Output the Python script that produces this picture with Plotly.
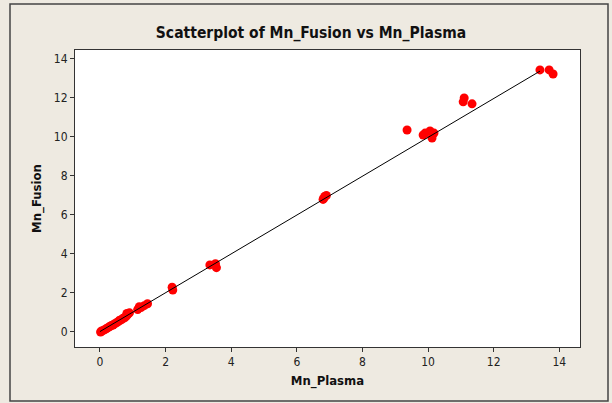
import plotly.graph_objects as go

# Data
mn_plasma = [0.02, 0.05, 0.1, 0.15, 0.2, 0.25, 0.3, 0.35, 0.4, 0.45, 0.5, 0.55, 0.6, 0.65,
             0.7, 0.75, 0.8, 0.85, 0.9, 0.82,
             1.15, 1.25, 1.35, 1.45, 1.2,
             2.2, 2.22,
             3.35, 3.52, 3.55,
             6.8, 6.85, 6.9, 6.82,
             9.36,
             9.85, 9.91, 10.06, 10.12, 10.18,
             11.07, 11.1, 11.34,
             13.41, 13.69, 13.81]
mn_fusion = [0.0, 0.05, 0.08, 0.12, 0.18, 0.22, 0.28, 0.33, 0.36, 0.42, 0.47, 0.52, 0.6, 0.62,
             0.7, 0.72, 0.8, 0.9, 0.98, 0.95,
             1.15, 1.25, 1.35, 1.45, 1.3,
             2.3, 2.15,
             3.44, 3.5, 3.3,
             6.8, 6.95, 7.0, 6.85,
             10.36,
             10.1, 10.2, 10.31, 9.95, 10.2,
             11.8, 12.0, 11.7,
             13.44, 13.44, 13.23]

# Fitted line
fit_intercept = 0.02
fit_slope = 0.996
fit_x = [0.0, 13.41]
fit_y = [fit_intercept + fit_slope * v for v in fit_x]

x_ticks = [0, 2, 4, 6, 8, 10, 12, 14]
y_ticks = [0, 2, 4, 6, 8, 10, 12, 14]

font_family = "DejaVu Sans Condensed, Liberation Sans, sans-serif"

fig = go.Figure()
fig.add_trace(go.Scatter(
    x=mn_plasma, y=mn_fusion, mode="markers",
    marker=dict(color="#FF0000", size=9, line=dict(width=0)),
    showlegend=False, hoverinfo="skip"))
fig.add_trace(go.Scatter(
    x=fit_x, y=fit_y, mode="lines",
    line=dict(color="black", width=1),
    showlegend=False, hoverinfo="skip"))

axis_common = dict(
    showgrid=False, zeroline=False, showline=True, linecolor="#333333", linewidth=1,
    mirror=True, ticks="outside", ticklen=4, tickcolor="#333333", tickwidth=1,
    tickfont=dict(family=font_family, size=12, color="#222222"),
)

fig.update_layout(
    width=612, height=403,
    paper_bgcolor="#EEEAE1", plot_bgcolor="white",
    margin=dict(l=75, r=32, t=50, b=56),
    title=dict(text="<b>Scatterplot of Mn_Fusion vs Mn_Plasma</b>",
               x=311 / 612, xanchor="center", xref="container", y=1 - 33 / 403, yanchor="middle",
               font=dict(family=font_family, size=15.5, color="#111111")),
    xaxis=dict(range=[-0.76, 14.63], tickvals=x_ticks,
               title=dict(text="<b>Mn_Plasma</b>", standoff=7,
                          font=dict(family=font_family, size=13, color="#111111")),
               **axis_common),
    yaxis=dict(range=[-0.77, 14.46], tickvals=y_ticks,
               title=dict(text="<b>Mn_Fusion</b>", standoff=9,
                          font=dict(family=font_family, size=13, color="#111111")),
               **axis_common),
    shapes=[dict(type="rect", xref="paper", yref="paper",
                 x0=-65 / 505, x1=1 + 28 / 505, y0=-54 / 297, y1=1 + 46 / 297,
                 line=dict(color="#444444", width=1.5), fillcolor="rgba(0,0,0,0)", layer="below")],
)

fig.write_html("out.html")
